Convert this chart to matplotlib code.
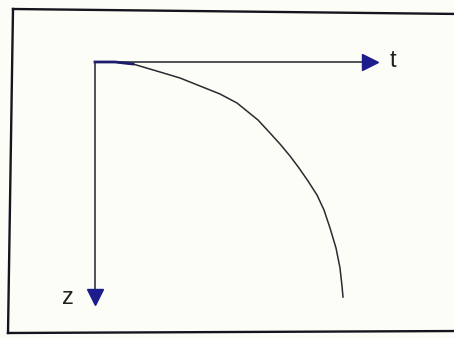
import matplotlib
matplotlib.use("Agg")
import matplotlib.pyplot as plt
from matplotlib.lines import Line2D

# Curve (t to the right, z downward, origin at axes corner)
curve_t = [0, 20, 38, 65, 85, 105, 125, 142, 163, 175, 185, 195, 204, 213,
           222, 229, 235, 241, 245, 247, 248]
curve_z = [0, 0, 2, 10, 16, 24, 32, 41, 58, 71, 82, 94, 106, 119,
           133, 148, 166, 186, 206, 224, 235]

t_axis_end = 284
z_axis_end = 243
axis_labels = ["t", "z"]

W, H = 454, 338
fig = plt.figure(figsize=(W / 100, H / 100), dpi=100)
fig.patch.set_facecolor("#fdfdf7")
ax = fig.add_axes([0, 0, 1, 1])
ax.set_facecolor("none")
ax.set_xlim(-95, W - 95)
ax.set_ylim(H - 62, -62)
ax.axis("off")

# border frame (left, top, bottom; right edge lies outside the picture)
def px(x, y):
    return x / W, 1 - y / H

frame_color = "#15151f"
for (x0, y0), (x1, y1) in [((13, 9), (8, 333)), ((13, 9), (460, 14)), ((8, 333), (460, 331))]:
    a, b = px(x0, y0), px(x1, y1)
    fig.add_artist(Line2D([a[0], b[0]], [a[1], b[1]], transform=fig.transFigure,
                          color=frame_color, linewidth=1.7))

axis_color = "#222230"
head_color = "#1c1c8c"

# t axis
ax.plot([0, t_axis_end - 16], [0, 0], color=axis_color, lw=1.1, solid_capstyle="butt")
ax.plot([t_axis_end - 9], [0], marker=">", markersize=12, color=head_color, mec=head_color)
# z axis
ax.plot([0, 0], [0, z_axis_end - 14], color=axis_color, lw=1.1, solid_capstyle="butt")
ax.plot([0], [z_axis_end - 8], marker="v", markersize=12, color=head_color, mec=head_color)

# curve
ax.plot(curve_t, curve_z, color="#2a2a30", lw=1.1, solid_joinstyle="round")
ax.plot(curve_t[:3], curve_z[:3], color="#1c1c6c", lw=2.0)

ax.text(298, -1, axis_labels[0], fontsize=17, family="Liberation Sans",
        ha="center", va="center", color="#202020")
ax.text(-27, 236, axis_labels[1], fontsize=17, family="Liberation Sans",
        ha="center", va="center", color="#202020")

fig.savefig("out.png", dpi=100, facecolor=fig.get_facecolor())
